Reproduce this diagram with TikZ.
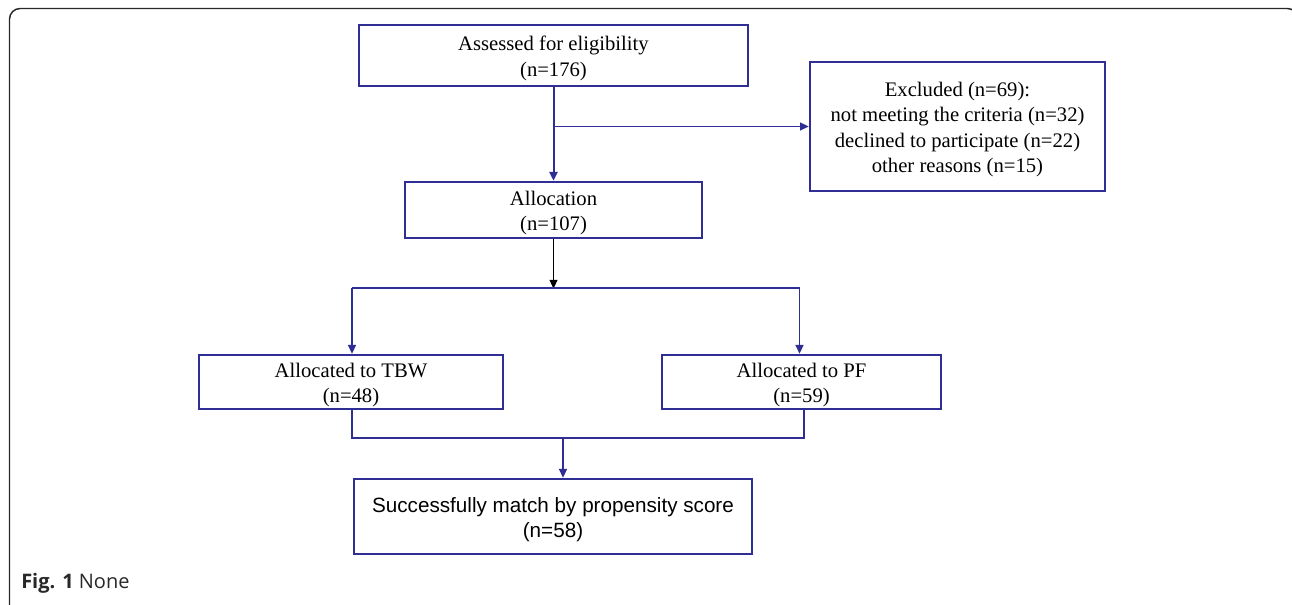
\documentclass[tikz,border=0pt]{standalone}
\usepackage{fontspec}
\setmainfont{Liberation Serif}
\newfontfamily\arialfont{Liberation Sans}
\newfontfamily\capfont{Open Sans}
\usetikzlibrary{arrows.meta}
\definecolor{flowblue}{RGB}{46,46,148}
\newcommand\lowstrut{\rule{0pt}{15.5pt}}
\tikzset{
  flowbox/.style={draw=flowblue, line width=2pt, align=center, inner sep=0.75pt,
    font=\fontsize{15.5}{19}\selectfont},
  bluelink/.style={draw=flowblue, line width=1.5pt},
  bluearrow/.style={bluelink, -{Triangle[length=6.5pt,width=6pt]}},
}
\begin{document}
\begin{tikzpicture}[x=0.75pt,y=0.75pt,yscale=-1,xscale=1]
\useasboundingbox (0,0) rectangle (1292,605);
\clip (0,0) rectangle (1292,605);

%Shape: Rounded Rect (frame)
\draw [color={rgb, 255:red, 40; green, 40; blue, 40 }, line width=1.1pt, rounded corners=8pt] (9.5,8.5) rectangle (1298,620) ;

% Text Node
\node (assess) at (553.5,55.5) [flowbox, minimum width=291.75pt, minimum height=45.75pt] {\lowstrut Assessed for eligibility\\(n=176)};
% Text Node
\node (excl) at (957.5,126.5) [flowbox, minimum width=221.25pt, minimum height=96.75pt] {\lowstrut Excluded (n=69):\\not meeting the criteria (n=32)\\declined to participate (n=22)\\other reasons (n=15)};
% Text Node
\node (alloc) at (553.5,210) [flowbox, minimum width=222.75pt, minimum height=42pt] {\lowstrut Allocation\\(n=107)};
% Text Node
\node (tbw) at (351,382) [flowbox, minimum width=228pt, minimum height=40.5pt] {\lowstrut Allocated to TBW\\(n=48)};
% Text Node
\node (pf) at (801.5,382) [flowbox, minimum width=209.25pt, minimum height=40.5pt] {\lowstrut Allocated to PF\\(n=59)};
% Text Node
\node (match) at (553,516.5) [flowbox, minimum width=298.5pt, minimum height=56.25pt, font=\arialfont\fontsize{15.5}{19}\selectfont] {\lowstrut Successfully match by propensity score\\(n=58)};

\coordinate (split) at (553.5,288.5) ;
\coordinate (join) at (563,438.5) ;

%Straight Lines
\draw [bluearrow] (assess.south) -- (alloc.north) ;
\draw [bluearrow, line width=1.1pt] (assess.south |- excl.west) -- (excl.west) ;
%Straight Lines
\draw [line width=0.75pt, -{Triangle[length=6.5pt,width=6pt]}] (alloc.south) -- (split) ;
\draw [bluelink] ([xshift=0.75pt]tbw.north |- split) -- ([xshift=-1.5pt]pf.north |- split) ;
\draw [bluearrow, line width=1.1pt] ([xshift=0.75pt]tbw.north |- split) -- ([xshift=0.75pt]tbw.north) ;
\draw [bluearrow, line width=1.1pt] ([xshift=-1.5pt]pf.north |- split) -- ([xshift=-1.5pt]pf.north) ;
%Straight Lines
\draw [bluelink] ([xshift=0.75pt]tbw.south) -- ([xshift=0.75pt]tbw.south |- join) -- ([xshift=2pt]pf.south |- join) -- ([xshift=2pt]pf.south) ;
\draw [bluearrow, line width=1.1pt] (join) -- (join |- match.north) ;

% Text Node
\node (caption) at (21,583) [anchor=west, inner sep=0pt, font=\capfont\fontsize{15}{17}\selectfont, color={rgb, 255:red, 40; green, 40; blue, 40 }] {\textbf{Fig. 1} None};

\end{tikzpicture}
\end{document}
